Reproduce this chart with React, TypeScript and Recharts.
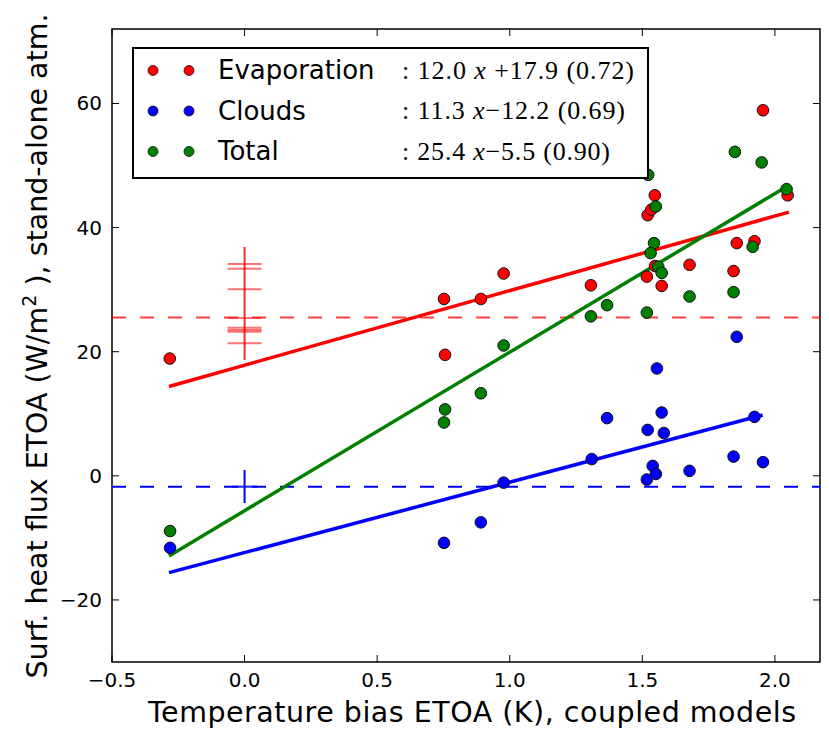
import React from "react";
import { ComposedChart, Scatter, Line, XAxis, YAxis, ReferenceLine, ReferenceArea, Label } from "recharts";

const W = 829;
const H = 733;
const PLOT = { left: 112, right: 820, top: 29, bottom: 662 };
const SANS = "DejaVu Sans, sans-serif";
const SERIF = "Liberation Serif, serif";

// axes
const xDomain = [-0.5, 2.17];
const yDomain = [-30, 72];
const xTicks = [-0.5, 0, 0.5, 1, 1.5, 2];
const yTicks = [-20, 0, 20, 40, 60];

// Evaporation (red)
const evapX = [-0.282, 0.756, 0.752, 0.891, 0.977, 1.306, 1.517, 1.548, 1.573, 1.678, 1.844, 1.856, 1.923, 1.52, 1.534, 1.547, 1.955, 2.048];
const evapY = [18.9, 19.5, 28.5, 28.5, 32.6, 30.7, 32.1, 33.8, 30.6, 34.0, 33.0, 37.5, 37.8, 42.0, 42.9, 45.2, 58.9, 45.2];

// Clouds (blue)
const cloudX = [1.856, 1.555, 1.367, 1.573, 1.52, 1.581, 1.923, 1.309, 1.539, 1.551, 1.517, 1.678, 1.844, 1.955, 0.977, 0.891, 0.752, -0.281];
const cloudY = [22.4, 17.3, 9.3, 10.2, 7.4, 6.9, 9.5, 2.7, 1.6, 0.3, -0.6, 0.8, 3.1, 2.2, -1.1, -7.5, -10.8, -11.6];

// Total (green)
const totalX = [1.551, 1.544, 1.531, 1.56, 1.573, 1.678, 1.844, 1.916, 1.306, 1.367, 1.517, 0.977, 0.891, 0.756, 0.752, -0.281, 1.849, 1.95, 2.044, 1.522];
const totalY = [43.4, 37.5, 35.9, 33.7, 32.7, 28.9, 29.6, 36.9, 25.7, 27.5, 26.3, 21.0, 13.3, 10.7, 8.6, -8.9, 52.2, 50.5, 46.2, 48.5];

// fitted lines (end points)
const evapFitX = [-0.285, 2.053];
const evapFitY = [14.4, 42.5];
const cloudFitX = [-0.285, 1.954];
const cloudFitY = [-15.6, 9.8];
const totalFitX = [-0.285, 2.044];
const totalFitY = [-12.9, 46.6];

// stand-alone atmosphere values at x = 0
const standEvapY = [34.13, 33.37, 30.05, 25.43, 23.86, 23.49, 23.22, 21.35];
const standEvapRange = [18.66, 36.87];
const standCloudY = [-1.75];
const standCloudRange = [-4.38, 0.93];
const meanEvap = 25.5;
const meanCloud = -1.75;

// legend
const legendNames = ["Evaporation", "Clouds", "Total"];
const legendColors = ["#ff0000", "#0000ff", "#008000"];
const legendFits = [
  ["12.0", " +17.9", "(0.72)"],
  ["11.3", "\u221212.2", "(0.69)"],
  ["25.4", "\u22125.5", "(0.90)"],
];

const zip = (xs: number[], ys: number[]) => xs.map((x, i) => ({ x, y: ys[i] }));
const minus = (s: string) => s.replace("-", "\u2212");

function dot(color: string) {
  return (p: any) => <circle cx={p.cx} cy={p.cy} r={5.8} fill={color} stroke="#111" strokeWidth={1} />;
}

function dash(width: number, color: string, opacity: number) {
  return (p: any) => (
    <line x1={p.cx - width / 2} x2={p.cx + width / 2} y1={p.cy} y2={p.cy} stroke={color} strokeOpacity={opacity} strokeWidth={2} />
  );
}

function XTick(props: any) {
  const { x, payload } = props;
  return (
    <g>
      <line x1={x} x2={x} y1={PLOT.bottom} y2={PLOT.bottom - 7} stroke="#000" strokeWidth={1} />
      <line x1={x} x2={x} y1={PLOT.top} y2={PLOT.top + 7} stroke="#000" strokeWidth={1} />
      <text x={x} y={687} textAnchor="middle" fontSize={20} fontFamily={SANS} fill="#000">
        {minus(payload.value.toFixed(1))}
      </text>
    </g>
  );
}

function YTick(props: any) {
  const { y, payload } = props;
  return (
    <g>
      <line x1={PLOT.left} x2={PLOT.left + 7} y1={y} y2={y} stroke="#000" strokeWidth={1} />
      <line x1={PLOT.right - 7} x2={PLOT.right} y1={y} y2={y} stroke="#000" strokeWidth={1} />
      <text x={102} y={y + 7} textAnchor="end" fontSize={20} fontFamily={SANS} fill="#000">
        {minus(String(payload.value))}
      </text>
    </g>
  );
}

const xLabel = () => (
  <text x={472} y={722} textAnchor="middle" fontSize={28.5} fontFamily={SANS} fill="#000" textLength={648} lengthAdjust="spacing">
    Temperature bias ETOA (K), coupled models
  </text>
);

const yLabel = () => (
  <text x={47} y={346} transform="rotate(-90 47 346)" textAnchor="middle" fontSize={28.5} fontFamily={SANS} fill="#000">
    Surf. heat flux ETOA (W/m
    <tspan dy={-11} fontSize={19}>2</tspan>
    <tspan dy={11}> ), stand-alone atm.</tspan>
  </text>
);

function LegendBox() {
  const rows = [70.5, 111, 151.5];
  const eqWidth = [232, 223, 208];
  return (
    <svg width={W} height={H} style={{ position: "absolute", left: 0, top: 0, pointerEvents: "none" }}>
      <rect x={133} y={48} width={515} height={130} fill="#fff" stroke="#000" strokeWidth={2} />
      {legendNames.map((name, i) => (
        <g key={name}>
          <circle cx={153} cy={rows[i]} r={5} fill={legendColors[i]} stroke="#111" strokeWidth={0.8} />
          <circle cx={189} cy={rows[i]} r={5} fill={legendColors[i]} stroke="#111" strokeWidth={0.8} />
          <text x={218} y={rows[i] + 8.5} fontSize={26} fontFamily={SANS} fill="#000">
            {name}
          </text>
          <text x={402} y={rows[i] + 8} fontSize={26} fontFamily={SERIF} fill="#000" textLength={eqWidth[i]} lengthAdjust="spacing">
            {": " + legendFits[i][0] + " "}
            <tspan fontStyle="italic">x</tspan>
            {legendFits[i][1] + " " + legendFits[i][2]}
          </text>
        </g>
      ))}
    </svg>
  );
}

export default function App() {
  return (
    <div style={{ position: "absolute", left: 0, top: 0, width: W, height: H, background: "#fff" }}>
      <ComposedChart width={W} height={H} margin={{ top: PLOT.top, right: W - PLOT.right, bottom: 0, left: 0 }}>
        <XAxis
          type="number"
          dataKey="x"
          domain={xDomain}
          ticks={xTicks}
          interval={0}
          allowDataOverflow
          height={H - PLOT.bottom}
          tickLine={false}
          axisLine={false}
          tick={<XTick />}
        >
          <Label content={xLabel} />
        </XAxis>
        <YAxis
          type="number"
          dataKey="y"
          domain={yDomain}
          ticks={yTicks}
          interval={0}
          allowDataOverflow
          width={PLOT.left}
          tickLine={false}
          axisLine={false}
          tick={<YTick />}
        >
          <Label content={yLabel} />
        </YAxis>
        <ReferenceArea x1={xDomain[0]} x2={xDomain[1]} y1={yDomain[0]} y2={yDomain[1]} fill="none" stroke="#000" strokeWidth={1.5} />
        <ReferenceLine y={meanEvap} stroke="#ff0000" strokeOpacity={0.75} strokeWidth={2} strokeDasharray="14 14" />
        <ReferenceLine y={meanCloud} stroke="#0000ff" strokeWidth={2} strokeDasharray="14 14" />

        <Line data={zip([0, 0], standEvapRange)} dataKey="y" stroke="#ff0000" strokeOpacity={0.85} strokeWidth={2} dot={false} isAnimationActive={false} />
        <Line data={zip([0, 0], standCloudRange)} dataKey="y" stroke="#0000ff" strokeWidth={2} dot={false} isAnimationActive={false} />
        <Scatter data={zip(standEvapY.map(() => 0), standEvapY)} dataKey="y" shape={dash(34, "#ff0000", 0.55)} isAnimationActive={false} />
        <Scatter data={zip([0], standCloudY)} dataKey="y" shape={dash(26, "#0000ff", 0.9)} isAnimationActive={false} />

        <Line data={zip(evapFitX, evapFitY)} dataKey="y" stroke="#ff0000" strokeWidth={3.5} dot={false} isAnimationActive={false} />
        <Line data={zip(cloudFitX, cloudFitY)} dataKey="y" stroke="#0000ff" strokeWidth={3.5} dot={false} isAnimationActive={false} />
        <Line data={zip(totalFitX, totalFitY)} dataKey="y" stroke="#008000" strokeWidth={3.5} dot={false} isAnimationActive={false} />

        <Scatter name="Evaporation" data={zip(evapX, evapY)} dataKey="y" shape={dot("#ff0000")} isAnimationActive={false} />
        <Scatter name="Clouds" data={zip(cloudX, cloudY)} dataKey="y" shape={dot("#0000ff")} isAnimationActive={false} />
        <Scatter name="Total" data={zip(totalX, totalY)} dataKey="y" shape={dot("#008000")} isAnimationActive={false} />
      </ComposedChart>
      <LegendBox />
    </div>
  );
}
